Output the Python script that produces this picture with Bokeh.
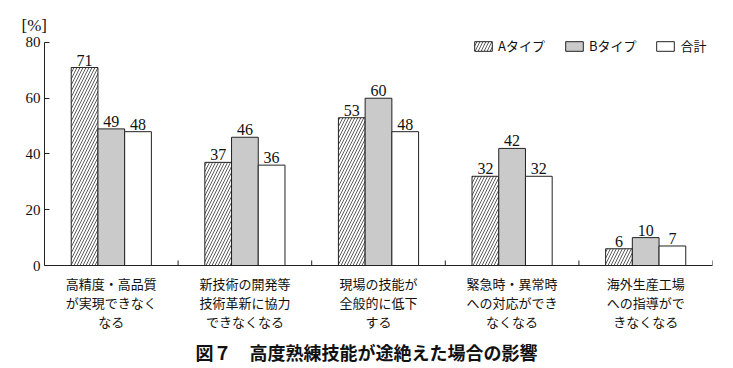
from bokeh.plotting import figure
from bokeh.models import (Range1d, FixedTicker, Legend, LegendItem, Title,
                          ColumnDataSource)
from bokeh.transform import dodge
from bokeh.core.properties import value
from bokeh.embed import file_html
from bokeh.resources import INLINE

categories = [
    "高精度・高品質\nが実現できなく\nなる",
    "新技術の開発等\n技術革新に協力\nできなくなる",
    "現場の技能が\n全般的に低下\nする",
    "緊急時・異常時\nへの対応ができ\nなくなる",
    "海外生産工場\nへの指導がで\nきなくなる",
]
type_a = [71, 37, 53, 32, 6]
type_b = [49, 46, 60, 42, 10]
total = [48, 36, 48, 32, 7]
series_names = ["Aタイプ", "Bタイプ", "合計"]
y_ticks = [0, 20, 40, 60, 80]
title_text = "図７　高度熟練技能が途絶えた場合の影響"
unit_text = "[%]"

n = len(categories)
centers = [i + 0.5 for i in range(n)]
bounds = [i + 1 for i in range(n)]
y_max = y_ticks[-1]

src = ColumnDataSource(dict(
    x=centers, a=type_a, b=type_b, t=total,
    a_s=[str(v) for v in type_a], b_s=[str(v) for v in type_b], t_s=[str(v) for v in total],
))

SERIF = "Liberation Serif"
JP = "Noto Sans CJK JP"

# frame: 232 px tall, 80 units over 224 px -> headroom of 8 px above the 80 tick
p = figure(width=733, height=368, x_range=Range1d(0, n), y_range=Range1d(0, y_max * 232 / 224),
           output_backend="svg", toolbar_location=None,
           min_border_left=44, min_border_right=21, min_border_top=34, min_border_bottom=102)
p.outline_line_color = None
p.xgrid.visible = False
p.ygrid.visible = False

bw = 0.2
ra = p.vbar(x=dodge('x', -bw, range=p.x_range), top='a', width=bw, source=src,
            fill_color="white", line_color="#222", line_width=1,
            hatch_pattern="/", hatch_color="#333", hatch_scale=6, hatch_weight=0.8)
rb = p.vbar(x='x', top='b', width=bw, source=src,
            fill_color="#cacaca", line_color="#222", line_width=1)
rt = p.vbar(x=dodge('x', bw, range=p.x_range), top='t', width=bw, source=src,
            fill_color="white", line_color="#222", line_width=1)

for off, col in [(-bw, 'a'), (0, 'b'), (bw, 't')]:
    p.text(x=dodge('x', off, range=p.x_range), y=col, text=col + '_s', source=src,
           text_align="center", text_baseline="bottom", y_offset=-2,
           text_font=value(SERIF), text_font_size="16px", text_color="#111")

# boundary ticks on x axis
p.segment(x0=bounds, y0=[0] * n, x1=bounds, y1=[1.8] * n, line_color="#222", line_width=1)

p.yaxis.ticker = FixedTicker(ticks=y_ticks)
p.yaxis.bounds = (0, y_max)
p.yaxis.major_tick_in = 5
p.yaxis.major_tick_out = 0
p.yaxis.minor_tick_line_color = None
p.yaxis.axis_line_color = "#222"
p.yaxis.major_tick_line_color = "#222"
p.yaxis.major_label_text_font = SERIF
p.yaxis.major_label_text_font_size = "15px"
p.yaxis.major_label_text_color = "#111"
p.yaxis.major_label_standoff = 4

p.xaxis.ticker = FixedTicker(ticks=centers)
p.xaxis.major_label_overrides = {c: lab for c, lab in zip(centers, categories)}
p.xaxis.major_tick_in = 0
p.xaxis.major_tick_out = 0
p.xaxis.minor_tick_line_color = None
p.xaxis.axis_line_color = "#222"
p.xaxis.major_label_text_font = JP
p.xaxis.major_label_text_font_size = "13px"
p.xaxis.major_label_text_line_height = 1.0
p.xaxis.major_label_text_color = "#111"
p.xaxis.major_label_standoff = 8

legend = Legend(items=[LegendItem(label=series_names[0], renderers=[ra]),
                       LegendItem(label=series_names[1], renderers=[rb]),
                       LegendItem(label=series_names[2], renderers=[rt])],
                orientation="horizontal", location=(428, 210),
                border_line_alpha=0, background_fill_alpha=0,
                glyph_width=22, glyph_height=12, label_standoff=4, spacing=18,
                padding=0, margin=0,
                label_text_font=JP, label_text_font_size="13px", label_text_color="#111")
p.add_layout(legend)

p.title.text = unit_text
p.title.align = "left"
p.title.offset = -23
p.title.text_font = SERIF
p.title.text_font_size = "17px"
p.title.text_font_style = "normal"
p.title.text_color = "#111"
p.title.standoff = 0

p.add_layout(Title(text=title_text, align="left", offset=151, text_font=JP,
                   text_font_size="18px", text_font_style="bold", text_color="#111",
                   standoff=7), "below")

open("out.html", "w").write(file_html(p, INLINE))
